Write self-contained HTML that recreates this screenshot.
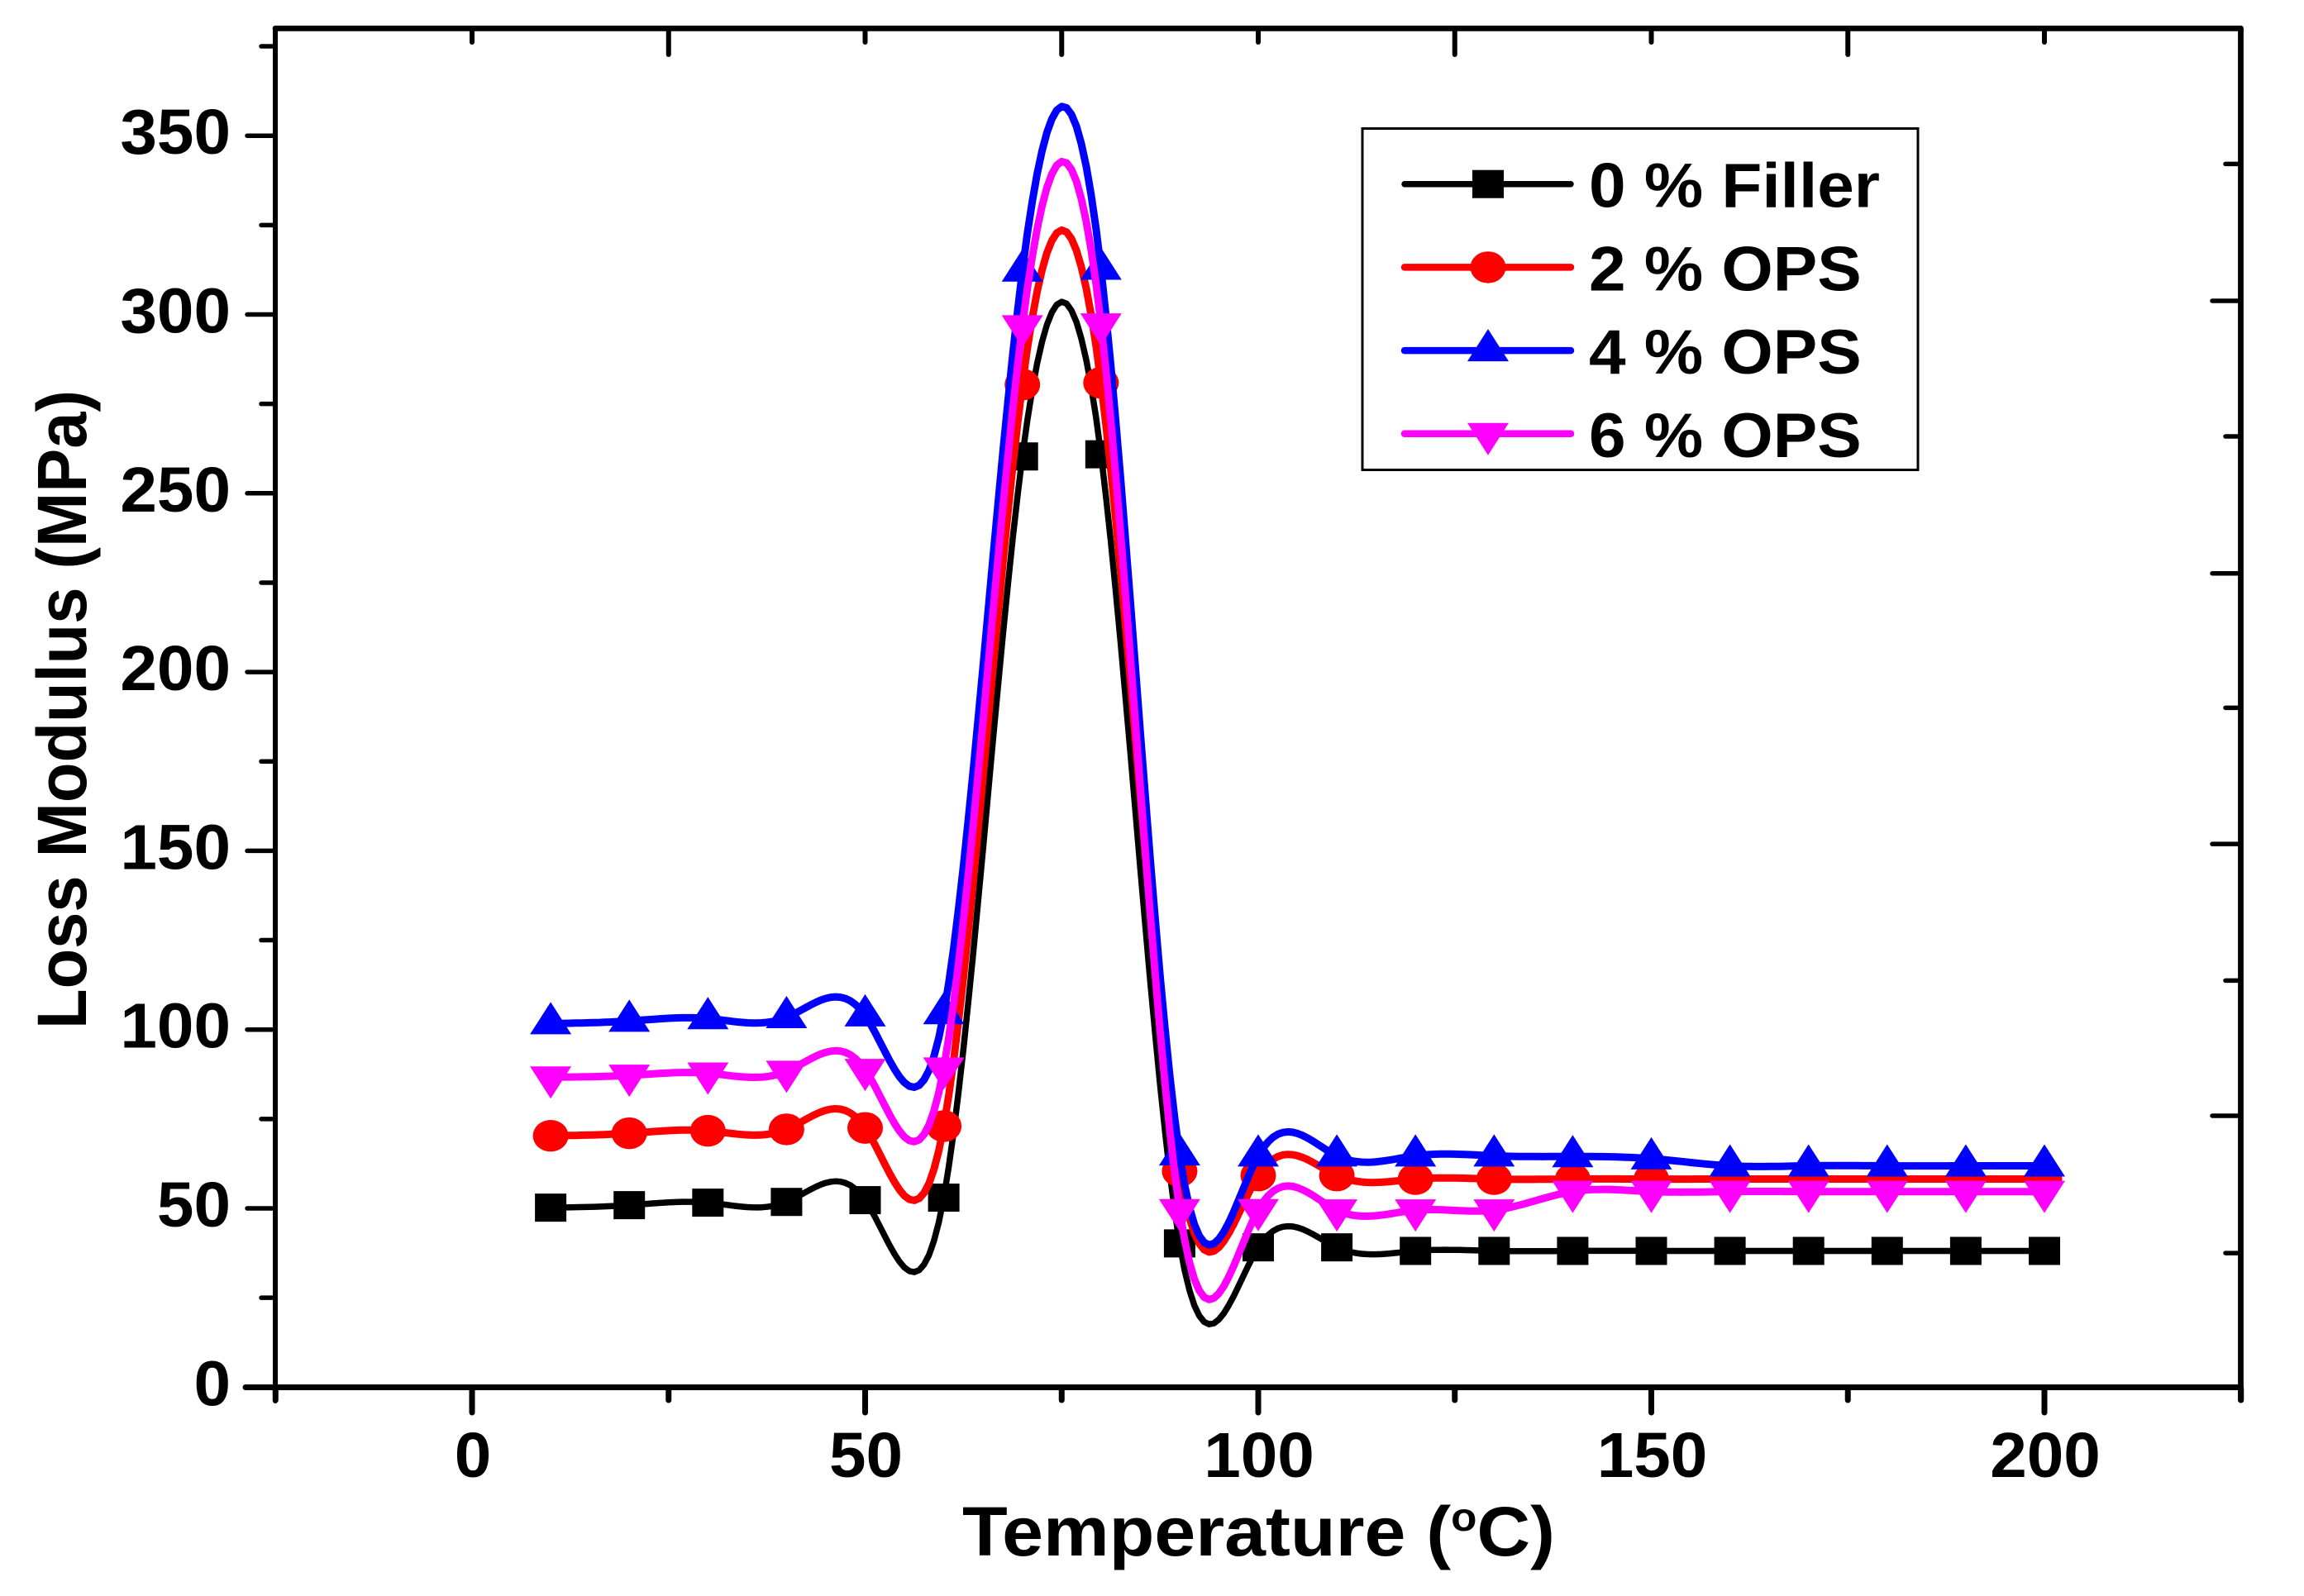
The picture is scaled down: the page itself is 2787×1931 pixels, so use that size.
<!DOCTYPE html>
<html lang="en">
<head>
<meta charset="utf-8">
<title>Loss Modulus vs Temperature</title>
<style>
html,body{margin:0;padding:0;background:#fff;}
svg{display:block;}
text{font-family:"Liberation Sans",Arial,sans-serif;font-weight:700;fill:#000;}
</style>
</head>
<body>
<svg id="chart" xmlns="http://www.w3.org/2000/svg" width="2787" height="1931" viewBox="0 0 2787 1931">
<rect x="0" y="0" width="2787" height="1931" fill="#fff"/>
</svg>
<script>
const temperatures = [10,20,30,40,50,60,70,80,90,100,110,120,130,140,150,160,170,180,190,200];
const filler0 = [50.2,50.9,51.6,51.8,52.3,53,260.3,260.9,40.2,39.1,39.1,38.1,38.1,38.1,38.1,38.1,38.1,38.1,38.1,38.1];
const ops2 = [70.3,71,71.7,72.1,72.5,73,280.4,280.9,60.4,59.2,59.2,58.2,58.2,58.2,58.2,58.2,58.2,58.2,58.2,58.2];
const ops4 = [101.7,102.4,103.1,103.4,103.9,104.5,312.2,312.7,65,64.7,64.7,64.7,64.7,64.5,63.9,61.9,61.9,61.9,61.9,61.9];
const ops6 = [86.7,87.2,87.8,88.3,88.8,89.2,296.8,297.3,49.6,49.6,49.5,49.5,49.5,54.7,54.7,54.7,54.7,54.7,54.7,54.7];
const xMajorTicks = [0,50,100,150,200];
const xMinorTicks = [-25,25,75,125,175,225];
const yMajorTicks = [0,50,100,150,200,250,300,350];
const yMinorTicks = [25,75,125,175,225,275,325,375];
const topShortTicks = [0,50,100,150,200];
const topLongTicks = [25,75,125,175];
const rightShortTicks = [37.5,113.7,190,265.9,342.1];
const rightLongTicks = [75.9,151.9,227.6,303.8];
const legendLabels = ['0 % Filler','2 % OPS','4 % OPS','6 % OPS'];

const svg = document.getElementById('chart');
const NS = 'http://www.w3.org/2000/svg';
const xScale = v => 571 + 9.51 * v;
const yScale = v => 1678.3 - 4.326 * v;

function make(tag, attrs, parent) {
  const el = document.createElementNS(NS, tag);
  for (const k in attrs) el.setAttribute(k, attrs[k]);
  (parent || svg).appendChild(el);
  return el;
}
function line(x1, y1, x2, y2, w, parent) {
  return make('line', {x1, y1, x2, y2, stroke:'#000', 'stroke-width':w, 'stroke-linecap':'round'}, parent);
}

/* natural cubic spline through the data, evaluated for the drawn curve */
function splinePath(xs, ys) {
  const n = xs.length, a = new Array(n).fill(0), b = new Array(n).fill(0), c = new Array(n).fill(0), d = new Array(n).fill(0);
  b[0] = 1; b[n-1] = 1;
  for (let i = 1; i < n-1; i++) {
    const h0 = xs[i]-xs[i-1], h1 = xs[i+1]-xs[i];
    a[i] = h0; b[i] = 2*(h0+h1); c[i] = h1;
    d[i] = 6*((ys[i+1]-ys[i])/h1 - (ys[i]-ys[i-1])/h0);
  }
  for (let i = 1; i < n; i++) {
    const m = a[i]/b[i-1];
    b[i] -= m*c[i-1];
    d[i] -= m*d[i-1];
  }
  const m2 = new Array(n).fill(0);
  m2[n-1] = d[n-1]/b[n-1];
  for (let i = n-2; i >= 0; i--) m2[i] = (d[i]-c[i]*m2[i+1])/b[i];
  const pts = [];
  for (let i = 0; i < n-1; i++) {
    const h = xs[i+1]-xs[i], steps = 16;
    for (let s = 0; s < steps; s++) {
      const t = xs[i] + h*s/steps, A = (xs[i+1]-t)/h, B = (t-xs[i])/h;
      const v = A*ys[i] + B*ys[i+1] + ((A*A*A-A)*m2[i] + (B*B*B-B)*m2[i+1])*h*h/6;
      pts.push(xScale(t).toFixed(1)+','+yScale(v).toFixed(1));
    }
  }
  pts.push(xScale(xs[n-1]).toFixed(1)+','+yScale(ys[n-1]).toFixed(1));
  return 'M' + pts.join('L');
}

function drawMarker(kind, cx, cy, color, parent) {
  if (kind === 'square') return make('rect', {x:cx-19, y:cy-17, width:38, height:34, fill:color}, parent);
  if (kind === 'circle') return make('ellipse', {cx, cy, rx:21.5, ry:19.2, fill:color}, parent);
  if (kind === 'up') return make('polygon', {points:`${cx},${cy-26} ${cx+25},${cy+13} ${cx-25},${cy+13}`, fill:color}, parent);
  return make('polygon', {points:`${cx},${cy+26} ${cx+25},${cy-13} ${cx-25},${cy-13}`, fill:color}, parent);
}

/* frame and ticks */
const axes = make('g', {});



const leftSpine = line(333, 34.4, 333, 1695, 6, axes);


const topSpine = line(333, 34.4, 2710.5, 34.4, 6.8, axes);


const rightSpine = line(2710.5, 34.4, 2710.5, 1694, 6.8, axes);


const bottomSpine = line(297, 1678.5, 2710.5, 1678.5, 7, axes);



xMajorTicks.forEach(v => {
  const t = line(xScale(v), 1680, xScale(v), 1709, 7, axes);
  
  
  const label = make('text', {transform:`translate(${xScale(v)+1},1787) scale(1.04,1)`, 'font-size':77, 'text-anchor':'middle'});
  label.textContent = String(v);
  
  
});
xMinorTicks.forEach(v => {
  const t = line(xScale(v), 1680, xScale(v), 1694, 7, axes);
  
  
});
yMajorTicks.forEach(v => {
  const t = line(299, yScale(v), 333, yScale(v), 5.5, axes);
  
  
  const label = make('text', {transform:`translate(279,${yScale(v)+22}) scale(1.04,1)`, 'font-size':77, 'text-anchor':'end'});
  label.textContent = String(v);
  
  
});
yMinorTicks.forEach(v => {
  const t = line(316, yScale(v), 333, yScale(v), 5.5, axes);
  
  
});
topShortTicks.forEach(v => {
  const t = line(xScale(v), 37, xScale(v), 51, 6, axes);
  
  
});
topLongTicks.forEach(v => {
  const t = line(xScale(v), 37, xScale(v), 66, 6, axes);
  
  
});
rightShortTicks.forEach(v => {
  const t = line(2692, yScale(v), 2708, yScale(v), 5.5, axes);
  
  
});
rightLongTicks.forEach(v => {
  const t = line(2676, yScale(v), 2708, yScale(v), 5.5, axes);
  
  
});

/* series */
const colors = ['#000000','#ff0000','#0000ff','#ff00ff'];
const markerKinds = ['square','circle','up','down'];
const widths = [7.5,9,9,9];
const seriesValues = [filler0, ops2, ops4, ops6];

seriesValues.forEach((vals, i) => {
  const g = make('g', {});
  
  
  const path = make('path', {d:splinePath(temperatures, vals), fill:'none', stroke:colors[i], 'stroke-width':widths[i], 'stroke-linejoin':'round'}, g);
  
  
  vals.forEach((v, j) => {
    const m = drawMarker(markerKinds[i], xScale(temperatures[j]), yScale(v), colors[i], g);
    
    
  });
});

/* legend */
const legend = make('g', {});


const legendBox = make('rect', {x:1648, y:155.5, width:672, height:413, fill:'none', stroke:'#000', 'stroke-width':3}, legend);


legendLabels.forEach((name, i) => {
  const ly = 222.7 + i*100.7;
  const swatch = make('line', {x1:1699, y1:ly, x2:1900, y2:ly, stroke:colors[i], 'stroke-width':i ? 8.5 : 7.5, 'stroke-linecap':'round'}, legend);
  
  
  const mk = drawMarker(markerKinds[i], 1800, ly, colors[i], legend);
  
  
  const tx = make('text', {transform:`translate(1922,${ly+28}) scale(1.055,1)`, 'font-size':76}, legend);
  tx.textContent = name;
  
  
});

/* axis titles */
const xTitle = make('text', {x:1164, y:1882, 'font-size':84, textLength:717, lengthAdjust:'spacingAndGlyphs'});


xTitle.appendChild(document.createTextNode('Temperature ('));
const degree = make('tspan', {'font-size':48, dy:-30}, xTitle);
degree.textContent = 'o';
const after = make('tspan', {dy:30}, xTitle);
after.textContent = 'C)';

const yTitle = make('text', {transform:'translate(104,1245) rotate(-90)', x:0, y:0, 'font-size':84, textLength:773, lengthAdjust:'spacingAndGlyphs'});
yTitle.textContent = 'Loss Modulus (MPa)';


</script>
</body>
</html>
